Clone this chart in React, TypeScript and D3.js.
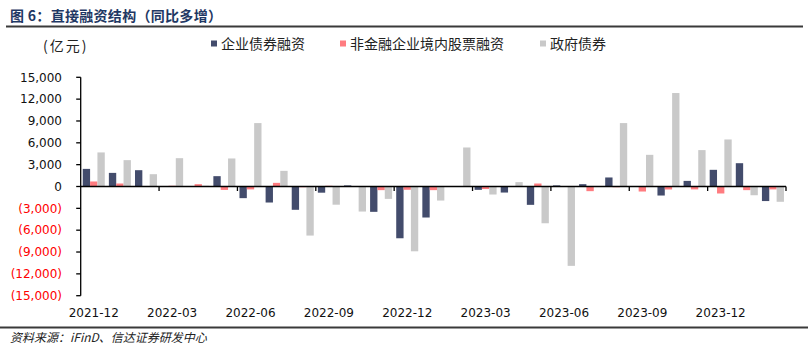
import * as d3 from "d3";
import React from "react";

// 月份（横轴类目）
const months = [
  "2021-12", "2022-01", "2022-02", "2022-03", "2022-04", "2022-05", "2022-06",
  "2022-07", "2022-08", "2022-09", "2022-10", "2022-11", "2022-12", "2023-01",
  "2023-02", "2023-03", "2023-04", "2023-05", "2023-06", "2023-07", "2023-08",
  "2023-09", "2023-10", "2023-11", "2023-12", "2024-01", "2024-02",
];

// 企业债券融资（亿元，同比多增）
const corpBond = [
  2420, 1870, 2240, 0, 0, 1420, -1600, -2200, -3200, -850, 150, -3480, -7110, -4260,
  0, -460, -830, -2520, 150, 320, 1240, 50, -1240, 770, 2290, 3200, -2000,
];

// 非金融企业境内股票融资
const equity = [
  690, 410, -50, 100, 320, -470, -400, 500, -100, 100, 0, -500, -450, -500,
  0, -350, 50, 410, 0, -640, -100, -690, -410, -400, -960, -500, -400,
];

// 政府债券
const govBond = [
  4680, 3620, 1690, 3890, 100, 3850, 8710, 2150, -6740, -2500, -3440, -1700, -8900, -1930,
  5360, -1100, 600, -5050, -10900, 0, 8710, 4350, 12840, 5000, 6460, -1200, -2100,
];

const seriesNames = ["企业债券融资", "非金融企业境内股票融资", "政府债券"];
const seriesColors = ["#434c6c", "#ff7c80", "#c9c9c9"];
const seriesValues = [corpBond, equity, govBond];

const yTicks = [15000, 12000, 9000, 6000, 3000, 0, -3000, -6000, -9000, -12000, -15000];

const W = 810;
const H = 350;
const plot = { left: 80.7, right: 786, top: 77.3, bottom: 295.7 };

const cjk = "'Noto Sans CJK SC', sans-serif";
const num = "'DejaVu Sans', sans-serif";

const fmt = (v: number) => {
  const s = d3.format(",")(Math.abs(v));
  return v < 0 ? `(${s})` : s;
};

export default function App() {
  const x = d3.scaleBand<string>().domain(months).range([plot.left, plot.right]).padding(0);
  const xs = d3
    .scaleBand<string>()
    .domain(seriesNames)
    .range([0, x.bandwidth()])
    .paddingInner(0)
    .paddingOuter(0.28);
  const y = d3.scaleLinear().domain([-15000, 15000]).range([plot.bottom, plot.top]);
  const y0 = y(0);

  const xTickIdx = d3.range(3, months.length + 1, 3);
  const labelIdx = d3.range(0, months.length, 3);

  const legendX = [211, 340, 540];

  return (
    <svg
      width={W}
      height={H}
      style={{ position: "absolute", left: 0, top: 0, background: "#fff" }}
    >
      {/* 标题 */}
      <text x={10} y={21} fontFamily={cjk} fontSize={14} fontWeight="bold" fill="#1f3864" letterSpacing={0.3}>
        图 6：直接融资结构（同比多增）
      </text>
      <line x1={6} x2={803} y1={26.5} y2={26.5} stroke="#3a3a3a" strokeWidth={2} />

      {/* 单位 */}
      <text x={43} y={51} fontFamily={cjk} fontSize={14} fill="#222" letterSpacing={2}>
        (亿元)
      </text>

      {/* 图例 */}
      {seriesNames.map((name, i) => (
        <g key={name}>
          <rect x={legendX[i]} y={40.5} width={6} height={6} fill={seriesColors[i]} />
          <text x={legendX[i] + 10} y={48.5} fontFamily={cjk} fontSize={14} fill="#222">
            {name}
          </text>
        </g>
      ))}

      {/* 柱子 */}
      {seriesValues.map((vals, si) =>
        vals.map((v, i) => (
          <rect
            key={`${si}-${i}`}
            x={(x(months[i]) ?? 0) + (xs(seriesNames[si]) ?? 0)}
            y={Math.min(y(v), y0)}
            width={xs.bandwidth()}
            height={Math.abs(y(v) - y0)}
            fill={seriesColors[si]}
          />
        ))
      )}

      {/* Y 轴 */}
      <line x1={plot.left} x2={plot.left} y1={plot.top} y2={plot.bottom} stroke="#000" strokeWidth={1.3} />
      {yTicks.map((t) => (
        <g key={t}>
          <line x1={plot.left - 4.5} x2={plot.left} y1={y(t)} y2={y(t)} stroke="#000" strokeWidth={1.3} />
          <text
            x={62}
            y={y(t)}
            dy="0.35em"
            textAnchor="end"
            fontFamily={num}
            fontSize={12}
            fill={t < 0 ? "#ff0000" : "#111"}
          >
            {fmt(t)}
          </text>
        </g>
      ))}

      {/* 零线与 X 轴刻度 */}
      <line x1={plot.left} x2={plot.right} y1={y0} y2={y0} stroke="#000" strokeWidth={1.3} />
      {xTickIdx.map((k) => {
        const px = plot.left + k * x.step();
        return <line key={k} x1={px} x2={px} y1={y0} y2={y0 + 4.5} stroke="#000" strokeWidth={1.3} />;
      })}
      {labelIdx.map((k) => (
        <text
          key={k}
          x={(x(months[k]) ?? 0) + x.bandwidth() / 2}
          y={316.5}
          textAnchor="middle"
          fontFamily={num}
          fontSize={12}
          fill="#111"
        >
          {months[k]}
        </text>
      ))}

      {/* 底线与来源 */}
      <line x1={0} x2={808} y1={327.5} y2={327.5} stroke="#3a3a3a" strokeWidth={2} />
      <text x={10} y={342} fontFamily={cjk} fontSize={12} fontStyle="italic" fill="#222">
        资料来源：iFinD、信达证券研发中心
      </text>
    </svg>
  );
}
